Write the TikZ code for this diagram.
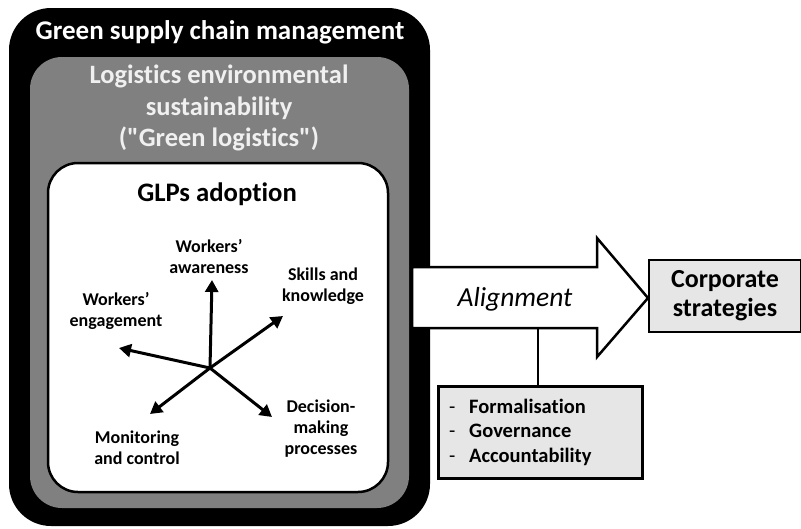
\documentclass[tikz,border=0pt]{standalone}
\usepackage{fontspec}
\setmainfont[Ligatures={NoCommon,TeXOff}]{Carlito}
\usetikzlibrary{arrows.meta}
\definecolor{midgray}{HTML}{808080}
\definecolor{lightgray}{HTML}{E6E6E6}
\definecolor{palegray}{HTML}{F0F0F0}
\begin{document}
\begin{tikzpicture}[x=1pt,y=-1pt,
  spoke/.style={line width=3pt,-{Triangle[length=12pt,width=13pt]}},
  lbl/.style={font=\bfseries\fontsize{18}{21}\selectfont,align=center,inner sep=0pt},
  heading/.style={font=\bfseries\fontsize{26.5}{31.5}\selectfont,align=center,inner sep=0pt},
  plainbox/.style={draw,line width=2.5pt,fill=lightgray,inner sep=0pt}]
\useasboundingbox (0,0) rectangle (801,528);

% nested frames
\fill[black,rounded corners=42pt] (9,8) rectangle (430,526);
\fill[midgray,rounded corners=32pt] (30,57) rectangle (409,508);
\draw[fill=white,line width=2.5pt,rounded corners=30pt] (48,163) rectangle (388,492);

\node[heading,text=white,font=\bfseries\fontsize{27}{31.5}\selectfont] (gscm) at (220,32) {Green supply chain management};
\node[heading,text=palegray] (green) at (219,108) {Logistics environmental\\sustainability\\("Green logistics")};
\node[heading,text=black,font=\bfseries\fontsize{26.7}{30}\selectfont] (glps) at (217,194) {GLPs adoption};

% five GLP dimensions
\coordinate (hub) at (210,368);
\coordinate (tipA) at (212,280);
\coordinate (tipS) at (283,316);
\coordinate (tipE) at (119,348);
\coordinate (tipM) at (150,414);
\coordinate (tipD) at (272,417);
\foreach \t in {tipA,tipS,tipE,tipM,tipD} \draw[spoke] (hub) -- (\t);

\node[lbl] (aware) at (209,257) {Workers’\\awareness};
\node[lbl] (skills) at (323,286) {Skills and\\knowledge};
\node[lbl] (engage) at (116,311) {Workers’\\engagement};
\node[lbl] (monitor) at (137,448) {Monitoring\\and control};
\node[lbl] (decide) at (321,429) {Decision-\\making\\processes};

% alignment arrow
\draw[fill=white,line width=2.5pt,line join=miter]
  (412,267) -- (597,267) -- (597,238) -- (648,298) -- (597,357) -- (597,328) -- (412,328) -- cycle;
\node[font=\itshape\fontsize{27.5}{30}\selectfont,inner sep=0pt] (align) at (515,299) {Alignment};
\coordinate (alignbase) at (538,328);

\node[plainbox,minimum width=152pt,minimum height=72pt,align=center,
  font=\bfseries\fontsize{26}{29}\selectfont] (corp) at (725,296) {Corporate\\strategies};

\node[plainbox,minimum width=204pt,minimum height=92pt,anchor=north west] (mech) at (437,385) {};
\node[font=\bfseries\fontsize{20.5}{24.5}\selectfont,align=left,anchor=west,inner sep=0pt] (mechtext) at (449,432)
  {\makebox[20pt][l]{\mdseries -}Formalisation\\\makebox[20pt][l]{\mdseries -}Governance\\\makebox[20pt][l]{\mdseries -}Accountability};
\draw[line width=2.5pt] (alignbase) -- (alignbase |- mech.north);
\end{tikzpicture}
\end{document}
